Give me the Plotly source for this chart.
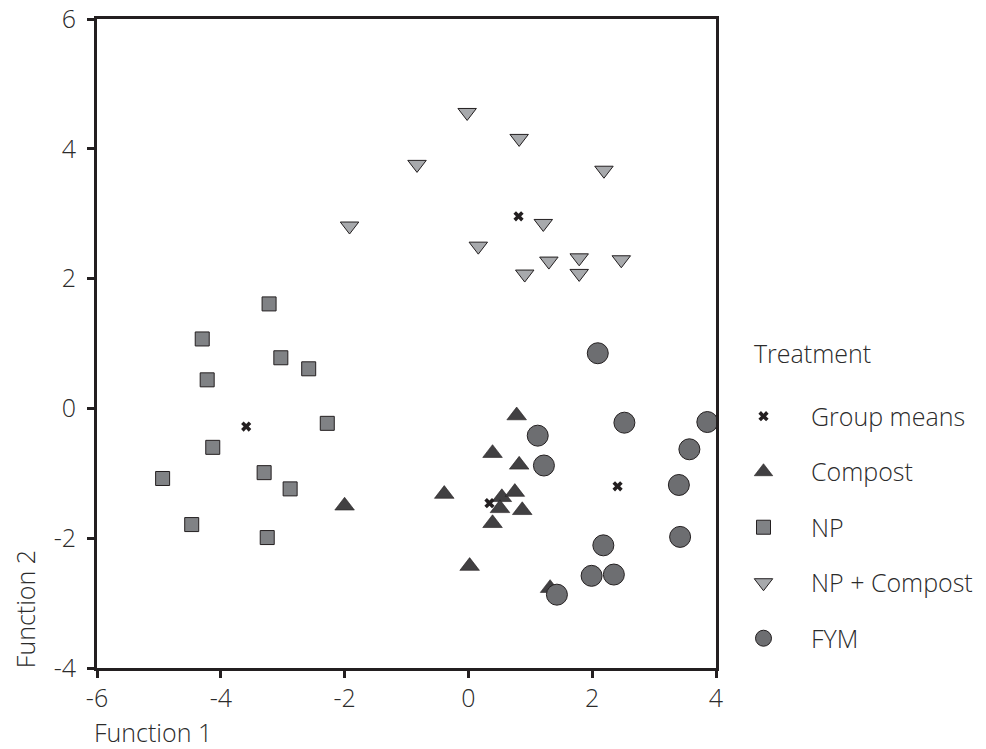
import plotly.graph_objects as go

# NP (squares)
np_x = [-3.22, -4.30, -3.03, -2.58, -4.22, -2.28, -4.13, -4.94, -3.30, -2.88, -4.47, -3.25]
np_y = [1.61, 1.07, 0.78, 0.61, 0.44, -0.23, -0.60, -1.08, -0.99, -1.24, -1.79, -1.99]

# NP + Compost (down triangles)
npc_x = [-0.02, 0.82, -0.83, 2.19, -1.92, 1.21, 0.16, 1.30, 1.79, 2.47, 0.91, 1.79]
npc_y = [4.56, 4.16, 3.76, 3.67, 2.81, 2.85, 2.50, 2.27, 2.32, 2.29, 2.07, 2.08]

# Compost (triangles)
comp_x = [-2.00, 0.78, 0.39, 0.82, -0.39, 0.54, 0.75, 0.51, 0.87, 0.39, 0.02, 1.32]
comp_y = [-1.50, -0.11, -0.69, -0.87, -1.32, -1.37, -1.29, -1.54, -1.57, -1.77, -2.43, -2.77]

# FYM (circles)
fym_x = [2.09, 2.52, 3.86, 1.12, 3.57, 1.22, 3.40, 2.18, 3.42, 1.99, 2.35, 1.43]
fym_y = [0.85, -0.22, -0.21, -0.42, -0.63, -0.88, -1.18, -2.11, -1.98, -2.58, -2.56, -2.87]

# Group means
gm_x = [-3.59, 0.34, 2.41, 0.81]
gm_y = [-0.28, -1.46, -1.20, 2.96]

x_ticks = [-6, -4, -2, 0, 2, 4]
y_ticks = [-4, -2, 0, 2, 4, 6]

EDGE = "#231f20"
FONT = "Open Sans, DejaVu Sans, sans-serif"
TXT = "#2b2b2b"
FS = 25

fig = go.Figure()

fig.add_trace(go.Scatter(
    x=np_x, y=np_y, mode="markers", name="NP", legendrank=3, legendgroup="c",
    marker=dict(symbol="square", size=14, color="#808285", line=dict(color=EDGE, width=1))))
fig.add_trace(go.Scatter(
    x=npc_x, y=npc_y, mode="markers", name="NP + Compost", legendrank=4, legendgroup="d",
    marker=dict(symbol="triangle-down", size=16, color="#a7a9ac", line=dict(color=EDGE, width=1))))
fig.add_trace(go.Scatter(
    x=comp_x, y=comp_y, mode="markers", name="Compost", legendrank=2, legendgroup="b",
    marker=dict(symbol="triangle-up", size=17, color="#414042", line=dict(color=EDGE, width=0.6))))
fig.add_trace(go.Scatter(
    x=fym_x, y=fym_y, mode="markers", name="FYM", legendrank=5, legendgroup="e",
    marker=dict(symbol="circle", size=21, color="#6d6e71", line=dict(color=EDGE, width=1))))
fig.add_trace(go.Scatter(
    x=gm_x, y=gm_y, mode="markers", name="Group means", legendrank=1, legendgroup="a",
    marker=dict(symbol="x", size=9, color=EDGE, line=dict(width=0))))

axis_common = dict(
    showgrid=False, zeroline=False, showline=True, linecolor=EDGE, linewidth=3,
    mirror=True, ticks="outside", ticklen=7, tickwidth=3, tickcolor=EDGE,
    ticklabeloverflow="allow",
    tickfont=dict(family=FONT, size=FS, color=TXT, weight=300),
)

fig.update_xaxes(range=[-6, 4], tickvals=x_ticks, ticktext=[str(v) for v in x_ticks],
                 ticklabelstandoff=-1, **axis_common)
fig.update_yaxes(range=[-4, 6], tickvals=y_ticks, ticktext=[str(v) for v in y_ticks],
                 ticklabelstandoff=6, **axis_common)

fig.add_annotation(text="Function 1", xref="paper", yref="paper", x=-0.008, y=-0.098,
                   xanchor="left", yanchor="middle", showarrow=False,
                   font=dict(family=FONT, size=FS, color=TXT, weight=300))
fig.add_annotation(text="Function 2", xref="paper", yref="paper", x=-0.116, y=-0.003,
                   xanchor="center", yanchor="bottom", textangle=-90, showarrow=False,
                   font=dict(family=FONT, size=FS, color=TXT, weight=300))
fig.add_annotation(text="Treatment", xref="paper", yref="paper", x=1.058, y=0.485,
                   xanchor="left", yanchor="middle", showarrow=False,
                   font=dict(family=FONT, size=FS, color=TXT, weight=300))

# page body adds an 8px offset, so the figure is sized 8px smaller
fig.update_layout(
    width=978, height=741,
    margin=dict(l=89, r=270, t=11, b=81, autoexpand=False),
    plot_bgcolor="white", paper_bgcolor="white",
    showlegend=True,
    legend=dict(
        font=dict(family=FONT, size=FS, color=TXT, weight=300),
        x=1.0, y=0.423, xanchor="left", yanchor="top",
        tracegroupgap=20, itemsizing="trace", itemwidth=85,
        bgcolor="rgba(0,0,0,0)",
    ),
)

fig.write_html("out.html")
